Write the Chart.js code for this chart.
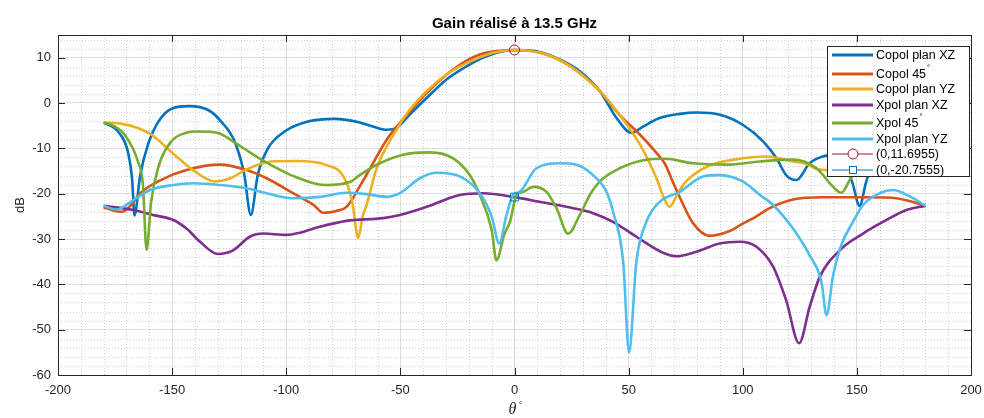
<!DOCTYPE html>
<html>
<head>
<meta charset="utf-8">
<script src="https://cdn.jsdelivr.net/npm/chart.js@4.4.1/dist/chart.umd.min.js"></script>
<style>
  html, body { margin: 0; padding: 0; background: #fff; }
  #wrap { width: 984px; height: 418px; }
</style>
</head>
<body>
<div id="wrap"><canvas id="gainChart" width="984" height="418"></canvas></div>
<script>
// axis ticks
const thetaTicks = [-200, -150, -100, -50, 0, 50, 100, 150, 200];
const gainTicks = [-60, -50, -40, -30, -20, -10, 0, 10];

const seriesNames = ["Copol plan XZ", "Copol 45°", "Copol plan YZ", "Xpol plan XZ", "Xpol 45°", "Xpol plan YZ"];
const markerNames = ["(0,11.6955)", "(0,-20.7555)"];

// values (theta in deg, gain in dB)
const copolXZTheta = [-180, -173.7, -169.4, -167.5, -166.5, -164, -160.6, -156, -150, -142.5, -134, -128.5, -122.6, -118.5, -115.5, -112.5, -108, -100.7, -90.5, -79, -68.6, -62, -56, -51.7, -46, -38.5, -29.8, -21, -12.3, -3.5, 0, 9.6, 19.8, 28.6, 37.4, 44.7, 51.2, 56.3, 63.6, 72.4, 80, 90, 100, 109, 114.8, 119, 123.5, 129.3, 135, 141, 145, 148, 151.2, 154, 157, 165, 172, 180];
const copolXZGain = [-4.3, -6.3, -10.7, -17, -24.8, -16, -9.2, -4.1, -1.2, -0.7, -1.6, -4.1, -8.5, -15.5, -24.7, -15.9, -10, -6.3, -4.1, -3.5, -4.2, -5.2, -5.9, -5.5, -2.6, 1.1, 5.2, 8.1, 10.3, 11.6, 11.7, 11.4, 9.6, 7, 2.6, -3.3, -6.6, -5.2, -3.3, -2.4, -2.1, -2.6, -4.8, -8.5, -12.2, -15.9, -17, -13.3, -11.8, -11.5, -14, -17.5, -22.7, -17.5, -13, -7, -5, -4.3];

const copol45Theta = [-180, -176, -172, -168, -164, -155, -143.7, -129, -117.4, -108.6, -97, -88, -83.8, -78, -73.6, -67.8, -62, -56, -50.2, -38.5, -26.9, -15.2, 0, 14, 25.7, 37.4, 46, 55, 62.2, 66, 69, 72.4, 78.2, 85.5, 94, 98.7, 106, 111.8, 122, 135, 151, 165, 172, 180];
const copol45Gain = [-23, -23.7, -24, -22.5, -19.9, -17, -14.8, -13.6, -14.8, -16.6, -19.9, -22.5, -24.2, -23.8, -22.9, -18.4, -13.3, -8.1, -4.4, 2.2, 7.4, 10.7, 11.7, 10.7, 7.7, 2.6, -2.6, -7, -11, -13.5, -17, -20.8, -26.5, -29.3, -28.3, -27, -25, -23.2, -21.3, -20.8, -20.8, -20.9, -21.5, -22.7];

const copolYZTheta = [-180, -172, -165, -159, -149, -140, -131.4, -124, -118, -106.6, -95, -83, -74.5, -71, -68.5, -66.5, -64.8, -60.4, -53, -45.9, -38.5, -29.8, -21, -9.4, 0, 14, 25.7, 37.4, 46, 55, 62.2, 65.5, 68, 71, 74, 78, 85.5, 100, 110, 116, 122, 128, 132, 138, 145, 155, 165, 180];
const copolYZGain = [-4.3, -4.6, -5.5, -7, -11.4, -15.1, -17.3, -16.5, -14.8, -12.9, -12.8, -13.6, -16.6, -22, -29.8, -25, -22.5, -14.4, -7, -1.5, 2.6, 6.3, 8.8, 11.1, 11.7, 10.7, 7.7, 2.6, -2.6, -9.2, -16.6, -21, -22.9, -20.5, -18, -16, -13.8, -12.2, -11.8, -12.2, -12.9, -13.5, -14.5, -14.8, -12, -9, -6, -4.3];

const xpolXZTheta = [-180, -167, -158.3, -149.5, -143.7, -137.8, -130, -123.3, -116, -110, -100, -94, -85.3, -73.6, -57.5, -50.2, -38.5, -24, -13.7, 0, 11, 25.7, 34.4, 43.2, 53.4, 65.8, 70.9, 79.7, 89.9, 98.7, 106, 113.3, 119, 124.7, 129.3, 133.7, 142.5, 152.7, 163, 171.7, 180];
const xpolXZGain = [-22.7, -23.6, -24.7, -25.8, -27.7, -30.6, -33.3, -32.5, -29.5, -28.8, -29.1, -28.6, -27.3, -26, -25.4, -24.7, -22.9, -20.3, -19.9, -20.76, -21.8, -23.2, -24.3, -26.2, -29.5, -33.2, -33.8, -32.8, -31, -30.6, -31.7, -36.1, -43.5, -53, -45, -38.4, -32.5, -28.8, -25.8, -23.6, -22.7];

const xpol45Theta = [-180, -175, -170.8, -165, -162.8, -161.2, -159.2, -156.2, -150.4, -144, -138.7, -130, -121.2, -109.5, -97.9, -83.2, -71.6, -67.8, -59, -48.8, -37.1, -26.9, -19.6, -15.2, -10, -7.9, -4.5, -2, 0.9, 3.8, 8.2, 14, 18.4, 23.5, 28.6, 33, 37.4, 46.1, 57.8, 65.8, 78.2, 92.9, 107.5, 122, 132.3, 139.6, 143.2, 146.9, 152, 160, 170, 180];
const xpol45Gain = [-4.3, -5.2, -7, -12.9, -18, -32.4, -21.8, -14.4, -8.5, -6.6, -6.3, -6.6, -9.2, -12.9, -15.9, -18.1, -17.3, -15.9, -13.3, -11.4, -10.9, -12.2, -15.9, -20.3, -28, -34.7, -29, -26.2, -20.3, -19.6, -18.5, -19.6, -23.2, -28.8, -24.7, -20.3, -17.3, -14.4, -12.5, -12.3, -13.3, -13.6, -12.9, -12.5, -14.4, -18.5, -19.8, -17, -13, -8, -5, -4.3];

const xpolYZTheta = [-180, -174.4, -167, -159.7, -149.5, -140.8, -129, -117.4, -108.6, -97, -85.3, -73.6, -64.8, -56, -50.2, -41.5, -34.2, -24, -15.2, -10, -6.7, -3.5, -0.6, 2.3, 9.6, 19.8, 27.2, 34.4, 40.3, 43.2, 47.6, 50.2, 53.4, 57.8, 63.6, 72.4, 82.6, 89.9, 100, 107.5, 113.3, 122, 129.3, 134.5, 136.7, 139.6, 143.2, 148.3, 152.7, 160, 165.8, 174.6, 180];
const xpolYZGain = [-22.7, -23.5, -21.4, -19.2, -18.1, -17.7, -18.1, -18.8, -19.9, -21, -20.7, -19.8, -20.1, -20.7, -19.9, -16.6, -15.4, -16.2, -19.9, -25, -31, -24.7, -20.3, -19.6, -14.4, -13.3, -13.6, -15.9, -19.6, -24, -35, -55, -35, -26.2, -21.8, -19.6, -16.2, -15.9, -17.3, -20.3, -22.5, -27.7, -33.6, -39.5, -46.8, -38, -31.3, -26.2, -22.5, -19.9, -19.2, -21, -22.7];

// data tips
const markerTheta = [0, 0];
const markerGain = [11.6955, -20.7555];

const seriesColors = ["#0072BD", "#D95319", "#EDB120", "#7E2F8E", "#77AC30", "#4DBEEE"];
const markerColors = ["#A2142F", "#0072BD"];

function pts(xs, ys) {
  return xs.map((x, i) => ({ x: x, y: ys[i] }));
}

const lineSets = [
  [copolXZTheta, copolXZGain],
  [copol45Theta, copol45Gain],
  [copolYZTheta, copolYZGain],
  [xpolXZTheta, xpolXZGain],
  [xpol45Theta, xpol45Gain],
  [xpolYZTheta, xpolYZGain]
];

const datasets = lineSets.map((s, i) => ({
  label: seriesNames[i],
  data: pts(s[0], s[1]),
  borderColor: seriesColors[i],
  borderWidth: 2.6,
  pointRadius: 0,
  fill: false,
  cubicInterpolationMode: "monotone",
  order: 10 - i
}));

datasets.push({
  label: markerNames[0],
  data: [{ x: markerTheta[0], y: markerGain[0] }],
  showLine: false,
  pointStyle: "circle",
  pointRadius: 5,
  pointBorderWidth: 1,
  pointBorderColor: markerColors[0],
  pointBackgroundColor: "rgba(0,0,0,0)",
  order: 2
});
datasets.push({
  label: markerNames[1],
  data: [{ x: markerTheta[1], y: markerGain[1] }],
  showLine: false,
  pointStyle: "rect",
  pointRadius: 5.5,
  pointBorderWidth: 1,
  pointBorderColor: markerColors[1],
  pointBackgroundColor: "rgba(0,0,0,0)",
  order: 1
});

const AXIS_COLOR = "#262626";
const FONT = "'Liberation Sans', Arial, Helvetica, sans-serif";

// text with a small raised degree sign
function drawWithDegree(ctx, text, x, y, size) {
  const parts = text.split("°");
  ctx.font = size + "px " + FONT;
  ctx.fillText(parts[0], x, y);
  if (parts.length > 1) {
    const w = ctx.measureText(parts[0]).width;
    ctx.font = (size * 0.6) + "px " + FONT;
    ctx.fillText("°", x + w + 1, y - size * 0.55);
  }
}

const matlabAxes = {
  id: "matlabAxes",
  beforeDatasetsDraw(chart) {
    const { ctx, chartArea: a, scales } = chart;
    const xs = scales.x, ys = scales.y;
    ctx.save();
    ctx.strokeStyle = "rgba(38,38,38,0.22)";
    ctx.lineWidth = 1;
    ctx.setLineDash([1, 2]);
    for (let v = xs.min; v <= xs.max; v += 10) {
      if (v % 50 === 0) continue;
      const px = Math.round(xs.getPixelForValue(v)) + 0.5;
      ctx.beginPath(); ctx.moveTo(px, a.top); ctx.lineTo(px, a.bottom); ctx.stroke();
    }
    for (let v = ys.min; v <= ys.max; v += 2) {
      if (v % 10 === 0) continue;
      const py = Math.round(ys.getPixelForValue(v)) + 0.5;
      ctx.beginPath(); ctx.moveTo(a.left, py); ctx.lineTo(a.right, py); ctx.stroke();
    }
    ctx.restore();
  },
  afterDatasetsDraw(chart) {
    const { ctx, chartArea: a, scales } = chart;
    const xs = scales.x, ys = scales.y;
    ctx.save();
    // box
    ctx.setLineDash([]);
    ctx.strokeStyle = AXIS_COLOR;
    ctx.lineWidth = 1;
    ctx.strokeRect(Math.round(a.left) + 0.5, Math.round(a.top) + 0.5, Math.round(a.right - a.left), Math.round(a.bottom - a.top));
    // inward ticks on all sides
    const tl = 7;
    ctx.beginPath();
    thetaTicks.forEach(v => {
      const px = Math.round(xs.getPixelForValue(v)) + 0.5;
      ctx.moveTo(px, a.bottom); ctx.lineTo(px, a.bottom - tl);
      ctx.moveTo(px, a.top); ctx.lineTo(px, a.top + tl);
    });
    gainTicks.forEach(v => {
      const py = Math.round(ys.getPixelForValue(v)) + 0.5;
      ctx.moveTo(a.left, py); ctx.lineTo(a.left + tl, py);
      ctx.moveTo(a.right, py); ctx.lineTo(a.right - tl, py);
    });
    ctx.stroke();

    // legend box inside the axes
    const L = a.right - 144, T = a.top + 11, W = 142, H = 130;
    ctx.fillStyle = "#fff";
    ctx.fillRect(L, T, W, H);
    ctx.strokeStyle = AXIS_COLOR;
    ctx.strokeRect(L + 0.5, T + 0.5, W, H);
    const rowY = [9, 28, 43, 59, 77, 93, 108, 124];
    const names = seriesNames.concat(markerNames);
    const colors = seriesColors.concat(markerColors);
    ctx.textBaseline = "middle";
    ctx.textAlign = "left";
    names.forEach((n, i) => {
      const y = T + rowY[i];
      ctx.strokeStyle = colors[i];
      ctx.lineWidth = i < 6 ? 3 : 1;
      ctx.beginPath(); ctx.moveTo(L + 5, y); ctx.lineTo(L + 46, y); ctx.stroke();
      if (i === 6) {
        ctx.fillStyle = "#fff";
        ctx.beginPath(); ctx.arc(L + 26, y, 5, 0, Math.PI * 2); ctx.fill(); ctx.stroke();
      } else if (i === 7) {
        ctx.fillStyle = "#fff";
        ctx.fillRect(L + 22, y - 4, 8, 8);
        ctx.strokeRect(L + 22.5, y - 3.5, 7, 7);
      }
      ctx.fillStyle = "#000";
      drawWithDegree(ctx, n, L + 49, y + 1, 12.5);
    });

    // title and axis labels
    ctx.fillStyle = "#000";
    ctx.textAlign = "center";
    ctx.textBaseline = "alphabetic";
    ctx.font = "bold 15px " + FONT;
    ctx.fillText("Gain réalisé à 13.5 GHz", (a.left + a.right) / 2, 28);

    ctx.fillStyle = AXIS_COLOR;
    ctx.font = "13px " + FONT;
    ctx.save();
    ctx.translate(20, (a.top + a.bottom) / 2);
    ctx.rotate(-Math.PI / 2);
    ctx.textBaseline = "middle";
    ctx.fillText("dB", 0, 0);
    ctx.restore();

    const cx = (a.left + a.right) / 2;
    ctx.textAlign = "center";
    ctx.textBaseline = "alphabetic";
    ctx.font = "italic 16px 'Liberation Serif', 'DejaVu Serif', serif";
    ctx.fillText("θ", cx - 2, 414);
    ctx.font = "9px " + FONT;
    ctx.fillText("°", cx + 6, 408);
    ctx.restore();
  }
};

const ctx = document.getElementById("gainChart").getContext("2d");

new Chart(ctx, {
  type: "line",
  data: { datasets: datasets },
  options: {
    responsive: false,
    animation: false,
    events: [],
    layout: { padding: { top: 35, right: 13, left: 0, bottom: 0 } },
    plugins: {
      legend: { display: false },
      title: { display: false },
      tooltip: { enabled: false }
    },
    scales: {
      x: {
        type: "linear",
        min: -200,
        max: 200,
        afterBuildTicks: s => { s.ticks = thetaTicks.map(v => ({ value: v })); },
        afterFit: s => { s.height = 43; s.paddingLeft = 0; s.paddingRight = 0; },
        grid: { color: "rgba(38,38,38,0.15)", drawTicks: false },
        border: { display: false },
        ticks: { padding: 8, color: AXIS_COLOR, font: { size: 13, family: FONT }, maxRotation: 0, autoSkip: false }
      },
      y: {
        type: "linear",
        min: -60,
        max: 15,
        afterBuildTicks: s => { s.ticks = gainTicks.map(v => ({ value: v })); },
        afterFit: s => { s.width = 58; s.paddingTop = 0; s.paddingBottom = 0; },
        grid: { color: "rgba(38,38,38,0.15)", drawTicks: false },
        border: { display: false },
        ticks: { padding: 7, color: AXIS_COLOR, font: { size: 13, family: FONT } }
      }
    }
  },
  plugins: [matlabAxes]
});
</script>
</body>
</html>
